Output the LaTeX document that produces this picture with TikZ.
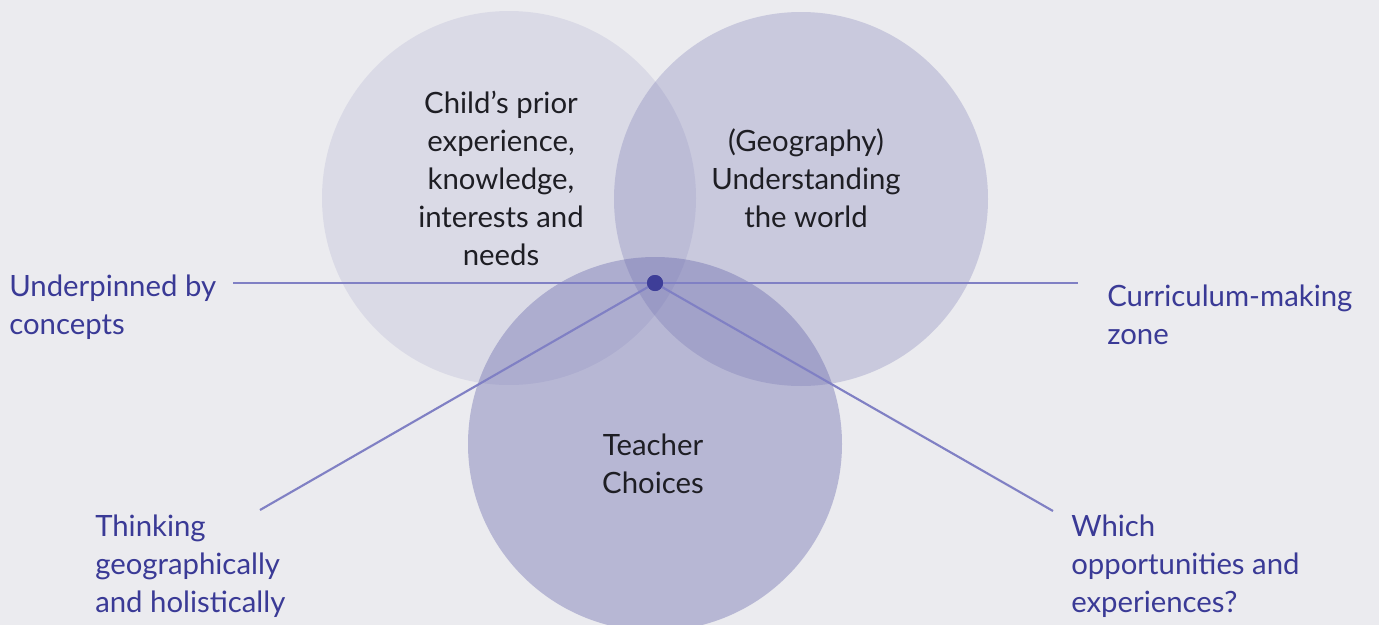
\documentclass[tikz,border=0pt]{standalone}
\usepackage{fontspec}
\setmainfont{Lato}
\definecolor{bgc}{RGB}{235,235,239}
\definecolor{circc}{RGB}{100,100,170}
\definecolor{linec}{RGB}{128,128,196}
\definecolor{dotc}{RGB}{62,62,152}
\definecolor{labc}{RGB}{58,58,150}
\definecolor{txtc}{RGB}{30,30,36}
\begin{document}
\begin{tikzpicture}[x=0.75pt,y=-0.75pt,
  venn/.style={circle,minimum size=374*0.75pt,inner sep=0pt,fill=circc},
  intext/.style={text=txtc,align=center,font=\fontsize{22}{28.5}\selectfont,inner sep=0pt},
  label/.style={text=labc,align=left,font=\fontsize{22}{28.5}\selectfont,inner sep=0pt,anchor=north west},
  conn/.style={draw=linec,line width=1.6pt}]
\useasboundingbox[fill=bgc] (0,0) rectangle (1379,625);
\clip (0,0) rectangle (1379,625);
\node[venn,fill opacity=0.12] (child) at (509,198) {};
\node[venn,fill opacity=0.25] (geo) at (801,199) {};
\node[venn,fill opacity=0.38] (teach) at (655,444) {};
\node[intext] (childt) at (501,178) {Child’s prior\\experience,\\knowledge,\\interests and\\needs};
\node[intext] (geot) at (806,178) {(Geography)\\Understanding\\the world};
\node[intext] (teacht) at (653,464) {Teacher\\Choices};
\coordinate (hl) at (233,283);
\coordinate (hr) at (1078,283);
\coordinate (dl) at (260,510);
\coordinate (dr) at (1053,511);
\node[circle,fill=dotc,minimum size=12pt,inner sep=0pt] (dot) at (655,283) {};
\draw[conn] (hl) -- (hr);
\draw[conn] (dot.center) -- (dl);
\draw[conn] (dot.center) -- (dr);
\node[circle,fill=dotc,minimum size=12pt,inner sep=0pt] at (dot) {};
\node[label] (under) at (9,275) {Underpinned by\\concepts};
\node[label] (curr) at (1107,285) {Curriculum-making\\zone};
\node[label] (think) at (95,515) {Thinking\\geographically\\and holistically};
\node[label] (which) at (1071,515) {Which\\opportunities and\\experiences?};
\end{tikzpicture}
\end{document}
